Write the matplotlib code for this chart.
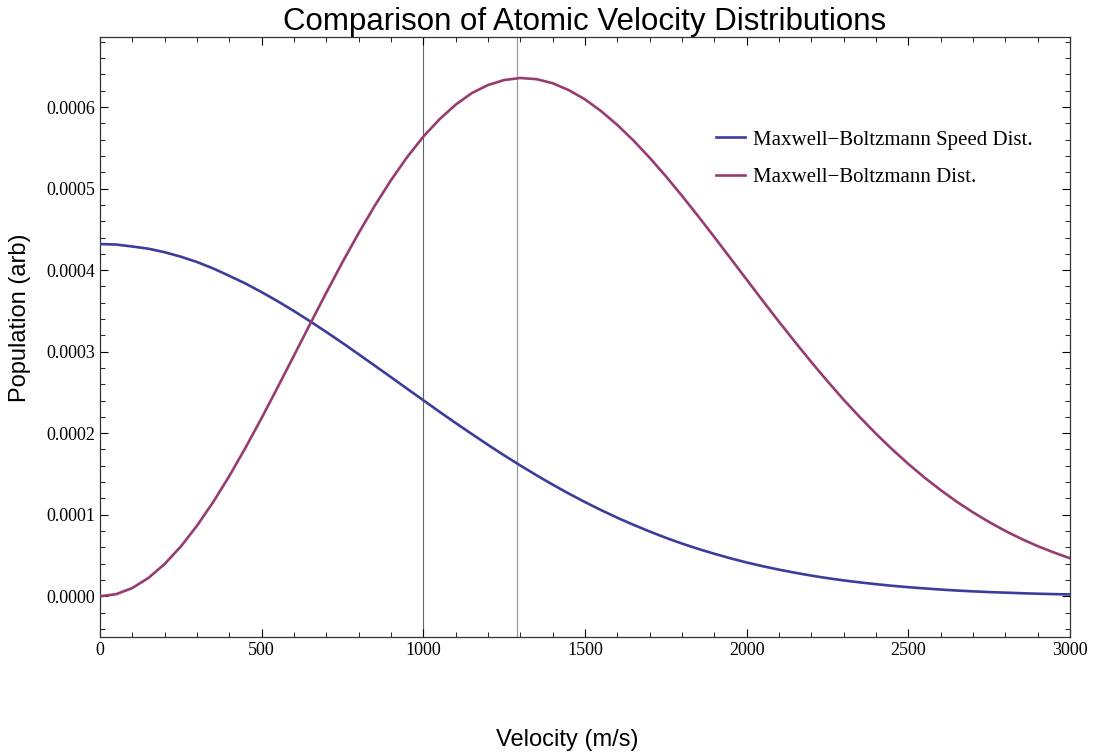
import matplotlib
matplotlib.use("Agg")
import matplotlib.pyplot as plt
from matplotlib.ticker import MultipleLocator, FormatStrFormatter

velocity = [0, 50, 100, 150, 200, 250, 300, 350, 400, 450, 500, 550, 600, 650, 700, 750,
            800, 850, 900, 950, 1000, 1050, 1100, 1150, 1200, 1250, 1300, 1350, 1400,
            1450, 1500, 1550, 1600, 1650, 1700, 1750, 1800, 1850, 1900, 1950, 2000,
            2050, 2100, 2150, 2200, 2250, 2300, 2350, 2400, 2450, 2500, 2550, 2600,
            2650, 2700, 2750, 2800, 2850, 2900, 2950, 3000]
speed_dist = [0.000432, 0.0004314, 0.000429, 0.0004263, 0.000422, 0.0004165, 0.000410,
              0.0004021, 0.000393, 0.0003836, 0.000373, 0.0003618, 0.0003498, 0.0003372,
              0.0003241, 0.0003107, 0.0002968, 0.0002828, 0.0002687, 0.0002545, 0.0002404,
              0.0002263, 0.0002125, 0.000199, 0.0001857, 0.0001728, 0.0001604, 0.0001484,
              0.0001369, 0.0001259, 0.0001155, 0.0001056, 0.0000963, 0.0000876, 0.0000794,
              0.0000717, 0.0000646, 0.0000581, 0.0000521, 0.0000465, 0.0000414,
              0.0000368, 0.0000326, 0.0000288, 0.0000253, 0.0000222, 0.0000194,
              0.0000170, 0.0000148, 0.0000128, 0.0000111, 0.0000096, 0.0000082,
              0.0000070, 0.0000060, 0.0000051, 0.0000044, 0.0000037, 0.0000031,
              0.0000026, 0.0000022]
mb_dist = [0.0, 0.0000025, 0.0000101, 0.0000225, 0.0000396, 0.000061, 0.0000865,
           0.0001155, 0.0001475, 0.0001822, 0.0002187, 0.0002567, 0.0002953, 0.0003341,
           0.0003725, 0.0004098, 0.0004455, 0.0004792, 0.0005104, 0.0005387, 0.0005638,
           0.0005851, 0.000603, 0.0006172, 0.0006271, 0.0006332, 0.0006357, 0.0006343,
           0.0006293, 0.0006208, 0.0006095, 0.000595, 0.0005781, 0.000559, 0.0005379,
           0.0005152, 0.0004912, 0.0004662, 0.0004406, 0.0004145, 0.0003884, 0.0003623,
           0.0003367, 0.0003117, 0.0002872, 0.0002637, 0.000241, 0.0002197, 0.0001993,
           0.0001802, 0.0001623, 0.0001456, 0.0001302, 0.0001159, 0.0001029, 0.000091,
           0.0000801, 0.0000703, 0.0000615, 0.0000537, 0.0000466]
vlines = [1000, 1290]
labels = ["Maxwell\u2212Boltzmann Speed Dist.", "Maxwell\u2212Boltzmann Dist."]

blue = "#3c3c9c"
mag = "#973c6f"

fig = plt.figure(figsize=(10.93, 7.56), dpi=100)
ax = fig.add_axes([100 / 1093, 1 - 637 / 756, 970 / 1093, 600 / 756])

ax.axvline(vlines[0], color="#666666", lw=0.8, zorder=1)
ax.axvline(vlines[1], color="#999999", lw=0.9, zorder=1)
ax.plot(velocity, speed_dist, color=blue, lw=1.9, label=labels[0], zorder=3)
ax.plot(velocity, mb_dist, color=mag, lw=1.9, label=labels[1], zorder=3)

ax.set_xlim(0, 3000)
ax.set_ylim(-0.00005, 0.000686)
ax.xaxis.set_major_locator(MultipleLocator(500))
ax.xaxis.set_minor_locator(MultipleLocator(100))
ax.yaxis.set_major_locator(MultipleLocator(0.0001))
ax.yaxis.set_minor_locator(MultipleLocator(0.00002))
ax.yaxis.set_major_formatter(FormatStrFormatter("%.4f"))
ax.xaxis.set_major_formatter(FormatStrFormatter("%d"))
ax.tick_params(which="both", direction="in", top=True, right=True, labelsize=13)
ax.tick_params(which="major", length=6, width=0.8)
ax.tick_params(which="minor", length=3.5, width=0.6)
for lab in ax.get_xticklabels() + ax.get_yticklabels():
    lab.set_fontfamily("Liberation Serif")
for s in ax.spines.values():
    s.set_linewidth(0.9)
    s.set_color("#333333")

ax.set_title("Comparison of Atomic Velocity Distributions", fontsize=22.5,
             fontfamily="Liberation Sans", pad=3)
fig.text(567 / 1093, 1 - 740 / 756, "Velocity (m/s)", fontsize=17,
         fontfamily="Liberation Sans", ha="center", va="center")
fig.text(20 / 1093, 1 - 318 / 756, "Population (arb)", fontsize=17,
         fontfamily="Liberation Sans", ha="center", va="center", rotation=90)

leg = ax.legend(loc="upper left", bbox_to_anchor=(0.635, 0.845), frameon=False,
                prop={"family": "Liberation Serif", "size": 15}, handlelength=1.4,
                handletextpad=0.4, labelspacing=0.85, borderpad=0, borderaxespad=0)

fig.savefig("out.png", dpi=100)
